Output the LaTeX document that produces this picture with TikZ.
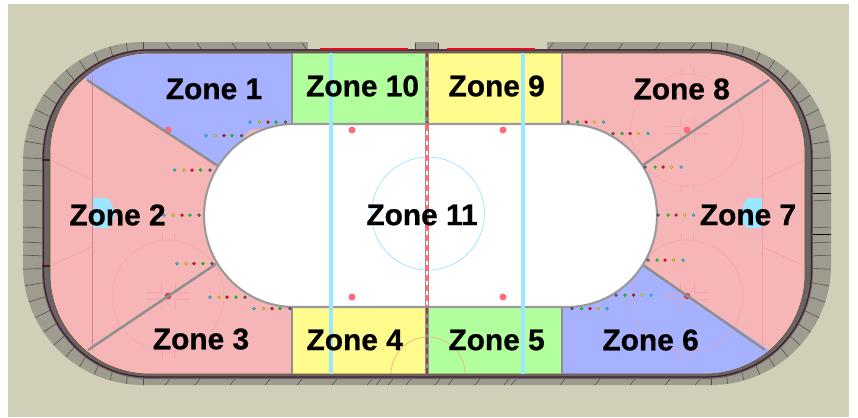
\documentclass[tikz,border=0pt]{standalone}
\usepackage{fontspec}
\setmainfont[BoldFeatures={FakeBold=0.7}]{Liberation Sans}
\definecolor{tanbg}{HTML}{D1CFB8}
\definecolor{seat}{HTML}{9E9C8E}
\definecolor{band}{HTML}{666666}
\definecolor{maroon}{HTML}{4A1A30}
\definecolor{zblue}{HTML}{A6B2FF}
\definecolor{zpink}{HTML}{F6B6B8}
\definecolor{zgreen}{HTML}{B2FF9E}
\definecolor{zyellow}{HTML}{FFFB8C}
\definecolor{divgray}{HTML}{8F8F8F}
\definecolor{iceblue}{HTML}{9DE6FF}
\definecolor{icered}{HTML}{FF6B7A}
\definecolor{markpink}{HTML}{F49EA8}
\definecolor{dcyan}{HTML}{20C8D8}
\definecolor{dyellow}{HTML}{F0E020}
\definecolor{dred}{HTML}{E01020}
\definecolor{dgreen}{HTML}{20D020}
\definecolor{dgray}{HTML}{606060}
\tikzset{
  zonelabel/.style={font=\fontsize{17pt}{18pt}\selectfont\bfseries,text=black,inner sep=0pt,anchor=center},
  divider/.style={draw=divgray,line width=1.4pt},
  hatch/.style={draw=black!70,line width=0.3pt},
  faint/.style={draw=markpink,line width=0.3pt},
  spot/.style={fill=icered},
  tiny/.style={line width=0.2pt}
}
\newcommand{\rowL}[6]{%
  \fill[dcyan,draw=dcyan!70!black,tiny] (#2,#1) circle (1.5);
  \fill[dyellow,draw=dyellow!60!black,tiny] (#3,#1) circle (1.5);
  \fill[dred,draw=dred!70!black,tiny] (#4,#1) circle (1.5);
  \fill[dgreen,draw=dgreen!70!black,tiny] (#5,#1) circle (1.5);
  \fill[dgray,draw=dgray!70!black,tiny] (#6,#1) circle (1.5);}
\newcommand{\rowR}[6]{%
  \fill[dgray,draw=dgray!70!black,tiny] (#2,#1) circle (1.5);
  \fill[dgreen,draw=dgreen!70!black,tiny] (#3,#1) circle (1.5);
  \fill[dred,draw=dred!70!black,tiny] (#4,#1) circle (1.5);
  \fill[dyellow,draw=dyellow!60!black,tiny] (#5,#1) circle (1.5);
  \fill[dcyan,draw=dcyan!70!black,tiny] (#6,#1) circle (1.5);}
\newcommand{\faceoff}[3]{%
  \begin{scope}[draw opacity=#3]
  \draw[faint] (#1,#2) circle (56);
  \draw[faint] (#1-7,#2-3.5) -- ++(-15,0) (#1-7,#2-3.5) -- ++(0,-10);
  \draw[faint] (#1+7,#2-3.5) -- ++(15,0) (#1+7,#2-3.5) -- ++(0,-10);
  \draw[faint] (#1-7,#2+3.5) -- ++(-15,0) (#1-7,#2+3.5) -- ++(0,10);
  \draw[faint] (#1+7,#2+3.5) -- ++(15,0) (#1+7,#2+3.5) -- ++(0,10);
  \draw[faint] (#1-6,#2-56) -- ++(0,-7) (#1+6,#2-56) -- ++(0,-7);
  \draw[faint] (#1-6,#2+56) -- ++(0,7) (#1+6,#2+56) -- ++(0,7);
  \end{scope}}
\begin{document}
\begin{tikzpicture}[x=0.02cm,y=-0.02cm]
\useasboundingbox (0,0) rectangle (858,417);
\fill[white] (0,0) rectangle (858,417);
\fill[tanbg] (8,4) rectangle (849,417);
% seats
\begin{scope}
  \clip[rounded corners=2.4cm] (23,42) rectangle (831,385);
  \fill[seat] (0,0) rectangle (858,417);
  \foreach \a in {2,10,...,90}{
    \draw[hatch] ({143-60*cos(\a)},{162-60*sin(\a)}) -- ({143-125*cos(\a)},{162-125*sin(\a)});
    \draw[hatch] ({711+60*cos(\a)},{162-60*sin(\a)}) -- ({711+125*cos(\a)},{162-125*sin(\a)});
    \draw[hatch] ({143-60*cos(\a)},{265+60*sin(\a)}) -- ({143-125*cos(\a)},{265+125*sin(\a)});
    \draw[hatch] ({711+60*cos(\a)},{265+60*sin(\a)}) -- ({711+125*cos(\a)},{265+125*sin(\a)});
  }
  \foreach \y in {170,185,200,227,242,255}{
    \draw[hatch] (23,\y) -- (44,\y+1);
    \draw[hatch] (810,\y+1) -- (831,\y);
  }
  \draw[draw=black,line width=0.4pt] (810,193) -- (831,193) (810,234) -- (831,234);
  \foreach \x in {166,197,232,267,302}{\draw[hatch] (\x,43) -- (\x+5,50);}
  \foreach \x in {548,583,618,655,690}{\draw[hatch] (\x+5,43) -- (\x,50);}
  \foreach \x in {170,200,235,270,302,337,372,381,393,411,440,453,480,509,516,565,600,635,670,700}{\draw[hatch] (\x,379) -- (\x-5,385);}
\end{scope}
% gaps in the top seat strip
\fill[tanbg] (308,40) rectangle (415,49.5);
\fill[tanbg] (438,40) rectangle (547,49.5);
\draw[hatch] (415,43) -- (415,49) (438,43) -- (438,49);
% dark band
\fill[band,rounded corners=2.16cm] (42,49) rectangle (813,379);
\draw[maroon,line width=0.7pt,rounded corners=2.12cm] (43.5,50) rectangle (811.5,377);
\draw[dred,line width=0.8pt] (320,49) -- (408,49) (447,49) -- (535,49);
\draw[maroon,line width=0.7pt] (42,160) -- (50,160) (42,266) -- (50,266);
% ice and zones
\begin{scope}
  \clip[rounded corners=2cm] (50,53) rectangle (805,374);
  \fill[zpink] (0,0) rectangle (858,417);
  \fill[zblue] (80,75) -- (218,166) -- (250,130) -- (292,124) -- (292,53) -- (80,53) -- cycle;
  \fill[zblue] (775,354) -- (643,265) -- (600,300) -- (562,307) -- (562,374) -- (775,374) -- cycle;
  \fill[zgreen] (292,53) rectangle (427,124);
  \fill[zyellow] (427,53) rectangle (562,124);
  \fill[zyellow] (292,307) rectangle (427,374);
  \fill[zgreen] (427,307) rectangle (562,374);
  % markings
  \fill[iceblue] (93,198) -- (108,198) .. controls (112,205) and (114,210) .. (115,213) .. controls (114,220) and (112,224) .. (108,228) -- (93,228) -- cycle;
  \fill[iceblue] (762,198) -- (747,198) .. controls (743,205) and (741,210) .. (741,213) .. controls (741,220) and (743,224) .. (747,228) -- (762,228) -- cycle;
  \draw[draw=markpink!85!black,line width=0.4pt] (92,75) -- (92,351);
  \draw[draw=markpink,line width=0.4pt] (762,75) -- (762,351);
  \draw[faint] (50,160) -- (92,180) (50,266) -- (92,247) (762,180) -- (805,160) (762,247) -- (805,266);
  \faceoff{168}{130}{0.12}
  \faceoff{168}{296}{0.8}
  \faceoff{687}{130}{0.6}
  \faceoff{687}{296}{0.8}
  \draw[draw=orange!25!zpink,line width=0.35pt] (428,374) circle (37);
\end{scope}
\draw[maroon!50!olive,line width=0.3pt,rounded corners=2cm] (50,53) rectangle (805,374);
% spots under the dividers
\foreach \x/\y in {168/130,168/296,687/130,687/296}{\fill[spot] (\x,\y) circle (3.5);}
\fill[icered!70!black] (168,296) circle (3);
\fill[icered!70!black] (687,296) circle (3);
% dividers
\draw[divider] (87,80) -- (218,166);
\draw[divider] (88,350) -- (216,264);
\draw[divider] (769,80) -- (643,165);
\draw[divider] (765,350) -- (643,265);
\draw[divider] (292,53) -- (292,124) (562,53) -- (562,124) (292,307) -- (292,374) (562,307) -- (562,374);
% centre ice
\path[fill=white,draw=divgray!90!white,line width=1.2pt] (294,124) -- (567,124) arc[start angle=-90,end angle=90,x radius=90,y radius=91.5] -- (294,307) arc[start angle=90,end angle=270,x radius=90,y radius=91.5] -- cycle;
\draw[draw=iceblue,line width=0.4pt] (428,213.5) circle (56.5);
% blue lines
\draw[draw=iceblue,line width=1.8pt] (331,53) -- (331,374) (523,53) -- (523,374);
% centre line
\draw[draw=divgray,line width=2.4pt] (427,53) -- (427,374);
\draw[draw=white,line width=1.3pt] (427,125) -- (427,306);
\draw[draw=icered,line width=1.8pt,dash pattern=on 3.4pt off 2.3pt] (427,125) -- (427,306);
\draw[draw=icered!60!black,line width=1.4pt,dash pattern=on 3.4pt off 2.3pt] (427,51) -- (427,123) (427,308) -- (427,376);
\foreach \x/\y in {352/130,503/130,352/297,503/297}{\fill[spot] (\x,\y) circle (3.5);}
% dots
\rowL{122}{250}{259.5}{268}{276}{285.5}
\rowL{135.5}{206}{215.5}{224}{232}{241.5}
\rowL{170}{174.7}{184}{192}{200.7}{210}
\rowL{215}{164}{173}{182}{190}{199}
\rowL{263.7}{177}{186}{194}{203}{212}
\rowL{297}{210}{219}{227}{236}{245}
\rowL{308.7}{254}{263.5}{272}{280}{290}
\rowR{122}{568}{577.7}{586}{594.5}{603.5}
\rowR{133.5}{613}{622}{630}{638.5}{648}
\rowR{167}{645}{655}{663}{671.5}{681}
\rowR{215}{658}{668}{676}{684.5}{693.5}
\rowR{260}{648}{657}{665}{673.7}{683}
\rowR{295}{616}{625}{633.7}{642}{651}
\rowR{308.7}{572}{581.5}{590}{598}{607}
% labels
\node[zonelabel] (z1) at (214,89) {Zone 1};
\node[zonelabel] (z2) at (117.5,215) {Zone 2};
\node[zonelabel] (z3) at (201,339) {Zone 3};
\node[zonelabel] (z4) at (354.7,340) {Zone 4};
\node[zonelabel] (z5) at (496.6,340) {Zone 5};
\node[zonelabel] (z6) at (650.6,340) {Zone 6};
\node[zonelabel] (z7) at (748,215) {Zone 7};
\node[zonelabel] (z8) at (681.7,89) {Zone 8};
\node[zonelabel] (z9) at (496.7,86) {Zone 9};
\node[zonelabel] (z10) at (362.6,86) {Zone 10};
\node[zonelabel] (z11) at (422,215) {Zone 11};
\end{tikzpicture}
\end{document}
